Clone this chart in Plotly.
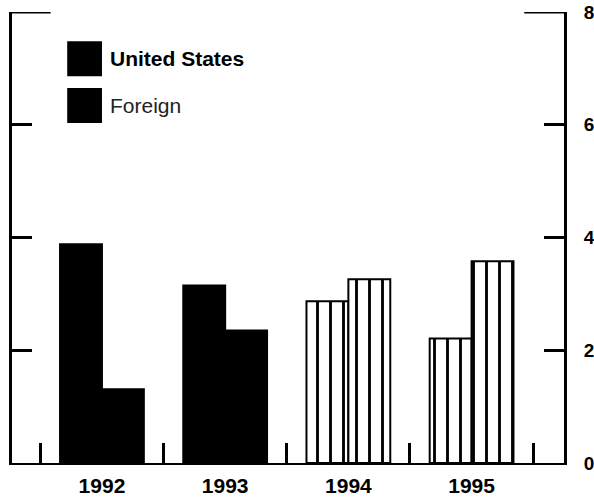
import plotly.graph_objects as go

# --- data ---
years = ["1992", "1993", "1994", "1995"]
united_states = [3.88, 3.15, 2.87, 2.21]
foreign = [1.31, 2.35, 3.26, 3.58]
striped = ["", "", "|", "|"]  # 1994-95 drawn hatched (projections)
y_ticks = [0, 2, 4, 6, 8]

FONT = "Arial, Liberation Sans, Helvetica, sans-serif"


def bar_trace(name, values):
    return go.Bar(
        x=years, y=values, name=name, showlegend=False,
        marker=dict(
            color="black",
            line=dict(color="black", width=2),
            pattern=dict(shape=striped, fillmode="replace", bgcolor="white",
                         fgcolor="black", size=13, solidity=0.22),
        ),
    )


fig = go.Figure()
fig.add_trace(bar_trace("United States", united_states))
fig.add_trace(bar_trace("Foreign", foreign))
# invisible trace so the left axis gets drawn
fig.add_trace(go.Scatter(x=[years[0]], y=[0], yaxis="y2", mode="markers",
                         marker=dict(opacity=0), showlegend=False, hoverinfo="skip"))

fig.update_layout(
    width=594, height=498,
    margin=dict(l=12, r=30, t=12, b=35),
    paper_bgcolor="white", plot_bgcolor="white",
    barmode="group", bargap=0.32, bargroupgap=0,
    font=dict(family=FONT, size=17, color="black"),
    xaxis=dict(
        range=[-0.73, 3.75], showgrid=False, zeroline=False, automargin=False,
        showline=True, linecolor="black", linewidth=2,
        ticks="inside", ticklen=20, tickwidth=3, tickcolor="black",
        tickson="boundaries",
        tickfont=dict(family=FONT, size=21, weight="bold"),
        ticklabelstandoff=3,
    ),
    yaxis=dict(
        side="right", range=[0, 8], tickvals=y_ticks, automargin=False,
        showgrid=False, zeroline=False,
        showline=True, linecolor="black", linewidth=3,
        ticks="inside", ticklen=20, tickwidth=3, tickcolor="black",
        tickfont=dict(family=FONT, size=19, weight="bold"),
        ticklabelstandoff=13,
    ),
    yaxis2=dict(
        overlaying="y", side="left", range=[0, 8], tickvals=y_ticks, automargin=False,
        showgrid=False, zeroline=False, showticklabels=False,
        showline=True, linecolor="black", linewidth=3,
        ticks="inside", ticklen=20, tickwidth=3, tickcolor="black",
    ),
)

# longer top ticks at 8 on both sides
fig.add_shape(type="line", xref="paper", yref="y", x0=0, x1=0.07, y0=8, y1=8,
              line=dict(color="black", width=3))
fig.add_shape(type="line", xref="paper", yref="y", x0=0.928, x1=1, y0=8, y1=8,
              line=dict(color="black", width=3))

# legend drawn by hand: big black squares with labels
legend_items = [("United States", 7.17, "bold", "black"), ("Foreign", 6.34, "normal", "#222")]
for label, yc, weight, col in legend_items:
    fig.add_shape(type="rect", xref="paper", yref="y",
                  x0=0.10, x1=0.163, y0=yc - 0.31, y1=yc + 0.31,
                  fillcolor="black", line=dict(width=0))
    fig.add_annotation(xref="paper", yref="y", x=0.174, y=yc, text=label,
                       showarrow=False, xanchor="left", yanchor="middle",
                       font=dict(family=FONT, size=21, color=col, weight=weight))

# drop the default body margin so the figure fills the window exactly
fig.write_html("out.html", config={"displayModeBar": False},
               post_script="document.body.style.margin='0';document.body.style.overflow='hidden';")
